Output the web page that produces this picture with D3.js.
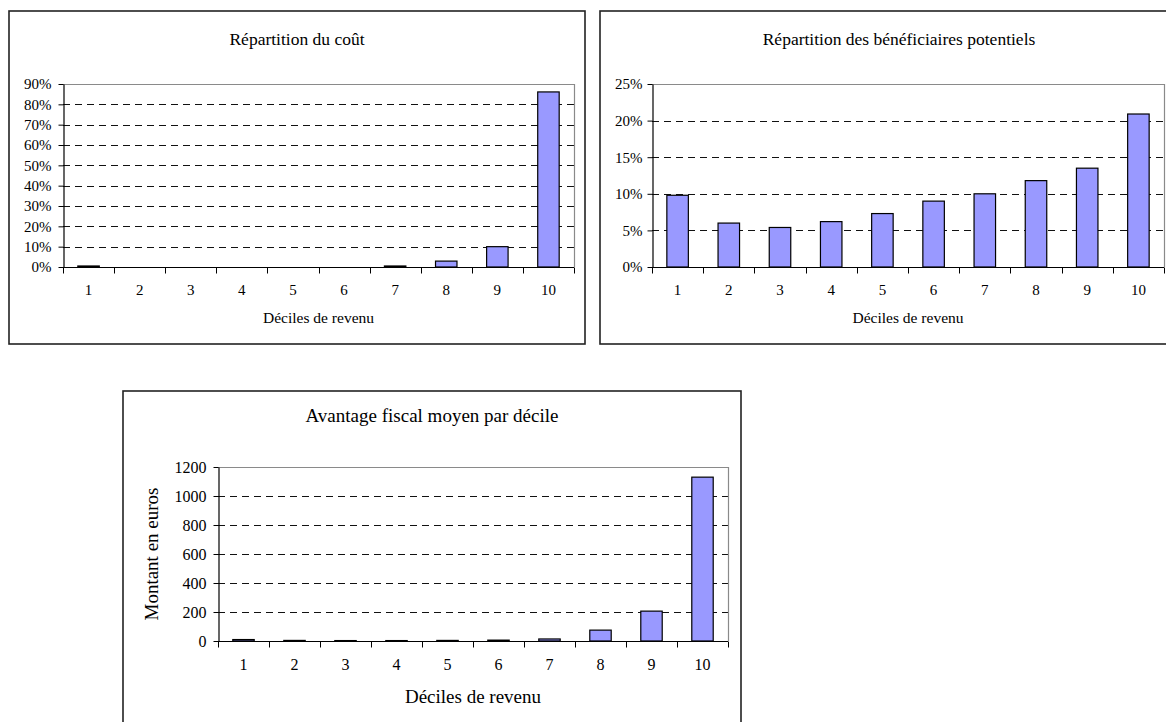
<!DOCTYPE html>
<html lang="fr">
<head>
<meta charset="utf-8">
<script src="https://cdn.jsdelivr.net/npm/d3@7"></script>
<style>
  html, body { margin: 0; padding: 0; background: #fff; }
  svg { display: block; }
  text { font-family: "Liberation Serif", "Times New Roman", serif; fill: #000; }
</style>
</head>
<body>
<svg id="chart" width="1166" height="722"></svg>
<script>
// Income deciles (x categories)
const deciles = ["1", "2", "3", "4", "5", "6", "7", "8", "9", "10"];

// Share of the total cost borne by each decile (%)
const coutShare = [0.5, 0, 0, 0, 0, 0, 0.5, 2.9, 10.0, 86.1];

// Share of potential beneficiaries in each decile (%)
const beneficiairesShare = [9.8, 6.0, 5.4, 6.2, 7.3, 9.0, 10.0, 11.8, 13.5, 20.9];

// Average tax advantage per decile (euros)
const avantageMoyen = [10, 4, 3, 3, 4, 6, 14, 75, 206, 1130];

// Y tick values for each panel
const coutTicks = [0, 10, 20, 30, 40, 50, 60, 70, 80, 90];
const beneficiairesTicks = [0, 5, 10, 15, 20, 25];
const avantageTicks = [0, 200, 400, 600, 800, 1000, 1200];

// Text
const titles = [
  "Répartition du coût",
  "Répartition des bénéficiaires potentiels",
  "Avantage fiscal moyen par décile"
];
const xTitle = "Déciles de revenu";
const yTitle3 = "Montant en euros";

const svg = d3.select("#chart");
const pct = d => d + "%";

function drawPanel(cfg) {
  const g = svg.append("g");

  // outer frame
  g.append("rect")
    .attr("x", cfg.frame[0]).attr("y", cfg.frame[1])
    .attr("width", cfg.frame[2] - cfg.frame[0]).attr("height", cfg.frame[3] - cfg.frame[1])
    .attr("fill", "#fff").attr("stroke", "#222").attr("stroke-width", 1.6);

  const [x0, x1] = cfg.px;
  const [yTop, yBot] = cfg.py;

  const y = d3.scaleLinear().domain([0, cfg.ymax]).range([yBot, yTop]);
  // slots for axis ticks and labels
  const slot = d3.scaleBand().domain(deciles).range([x0, x1]).padding(0);
  // bars centred in each slot
  const xb = d3.scaleBand().domain(deciles).range([x0, x1])
    .paddingInner(0.58).paddingOuter(0.29);

  // dashed horizontal gridlines
  g.append("g").selectAll("line")
    .data(cfg.ticks.filter(t => t > 0))
    .join("line")
    .attr("x1", x0).attr("x2", x1)
    .attr("y1", d => Math.round(y(d)) + 0.5).attr("y2", d => Math.round(y(d)) + 0.5)
    .attr("stroke", "#111").attr("stroke-width", 1)
    .attr("stroke-dasharray", "7,5");

  // plot area border (top and right)
  g.append("path")
    .attr("d", `M${x0},${Math.round(yTop) + 0.5}H${Math.round(x1) + 0.5}V${yBot}`)
    .attr("fill", "none").attr("stroke", "#8a8a8a").attr("stroke-width", 1.2);

  // bars
  g.append("g").selectAll("rect")
    .data(deciles.map((d, i) => ({ d, v: cfg.values[i] })).filter(o => o.v > 0))
    .join("rect")
    .attr("x", o => xb(o.d))
    .attr("width", xb.bandwidth())
    .attr("y", o => y(o.v))
    .attr("height", o => yBot - y(o.v))
    .attr("fill", "#9999ff").attr("stroke", "#000").attr("stroke-width", 1.2);

  // y axis
  const ya = g.append("g")
    .attr("transform", `translate(${Math.round(x0) + 0.5},0)`)
    .call(d3.axisLeft(y).tickValues(cfg.ticks).tickFormat(cfg.fmt)
      .tickSize(5).tickSizeOuter(0).tickPadding(cfg.yPad));
  ya.select(".domain").attr("stroke", "#000").attr("stroke-width", 1.2);
  ya.selectAll(".tick line").attr("stroke", "#000");
  ya.selectAll("text").style("font-size", cfg.tickFont + "px").attr("fill", "#000");

  // x axis: labels centred in slots, tick marks on slot boundaries
  const xa = g.append("g")
    .attr("transform", `translate(0,${Math.round(yBot) + 0.5})`)
    .call(d3.axisBottom(slot).tickSize(0).tickPadding(cfg.xPad));
  xa.select(".domain").remove();
  xa.selectAll("text").style("font-size", cfg.tickFont + "px").attr("fill", "#000");
  xa.append("line").attr("x1", x0).attr("x2", x1).attr("stroke", "#000").attr("stroke-width", 1.2);
  xa.selectAll(".bound")
    .data(deciles.map(d => slot(d)).concat([x1]))
    .join("line").attr("class", "bound")
    .attr("x1", d => Math.round(d) + 0.5).attr("x2", d => Math.round(d) + 0.5)
    .attr("y1", 0).attr("y2", 6)
    .attr("stroke", "#000").attr("stroke-width", 1);

  // titles
  g.append("text")
    .attr("x", cfg.titleX).attr("y", cfg.titleY)
    .attr("text-anchor", "middle").style("font-size", cfg.titleFont + "px")
    .text(cfg.title);
  g.append("text")
    .attr("x", (x0 + x1) / 2).attr("y", cfg.xTitleY)
    .attr("text-anchor", "middle").style("font-size", cfg.axisFont + "px")
    .text(xTitle);
  if (cfg.yTitle) {
    g.append("text")
      .attr("transform", `translate(${cfg.yTitleX},${(yTop + yBot) / 2}) rotate(-90)`)
      .attr("text-anchor", "middle").style("font-size", cfg.axisFont + "px")
      .text(cfg.yTitle);
  }
}

drawPanel({
  frame: [9, 11, 585, 344], px: [63, 574], py: [84, 267],
  values: coutShare, ticks: coutTicks, ymax: 90, fmt: pct,
  title: titles[0], titleX: 297, titleY: 45, titleFont: 17.5,
  xTitleY: 323, axisFont: 15.5, tickFont: 15, yPad: 7, xPad: 17
});

drawPanel({
  frame: [600, 11, 1190, 344], px: [652, 1164], py: [84, 267],
  values: beneficiairesShare, ticks: beneficiairesTicks, ymax: 25, fmt: pct,
  title: titles[1], titleX: 899, titleY: 45, titleFont: 17.5,
  xTitleY: 323, axisFont: 15.5, tickFont: 15, yPad: 5, xPad: 17
});

drawPanel({
  frame: [123, 391, 741, 740], px: [218, 728], py: [467, 641],
  values: avantageMoyen, ticks: avantageTicks, ymax: 1200, fmt: d3.format("d"),
  title: titles[2], titleX: 432, titleY: 422, titleFont: 19,
  xTitleY: 703, axisFont: 19, tickFont: 16, yPad: 7, xPad: 17,
  yTitle: yTitle3, yTitleX: 158
});
</script>
</body>
</html>
